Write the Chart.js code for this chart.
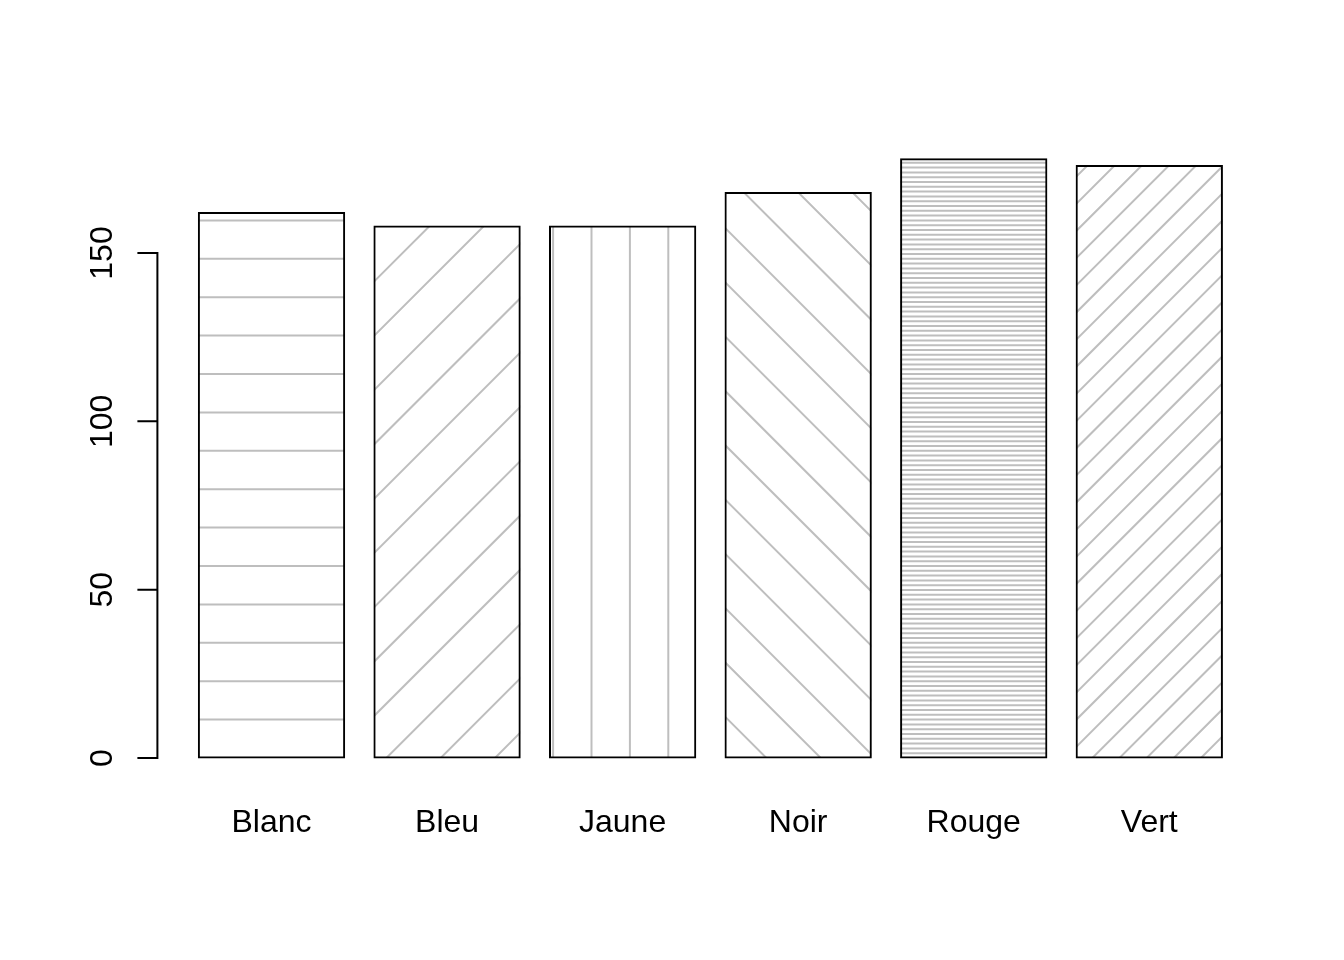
<!DOCTYPE html>
<html>
<head>
<meta charset="utf-8">
<style>
  html, body { margin: 0; padding: 0; background: #ffffff; }
  canvas { display: block; }
</style>
<script src="https://cdn.jsdelivr.net/npm/chart.js@4/dist/chart.umd.min.js"></script>
</head>
<body>
<canvas id="c" width="1344" height="960"></canvas>
<script>
// ---- data ----
const categories = ['Blanc', 'Bleu', 'Jaune', 'Noir', 'Rouge', 'Vert'];
const counts = [162, 158, 158, 168, 178, 176];
const yTicks = [0, 50, 100, 150];
// hatch style per bar (R: angle in degrees, density in lines per inch)
const hatchAngles = [0, 45, 90, 135, 0, 45];
const hatchDensities = [5, 5, 5, 5, 40, 10];

// R barplot geometry (user units): bar width 1, space 0.2
const barSpace = 0.2;
const barCenters = categories.map((_, i) => barSpace + 0.5 + i * (1 + barSpace));
const xMin = -0.08, xMax = 7.48;
const yMin = -13.51, yMax = 185;

const FONT = '"Liberation Sans", Arial, Helvetica, sans-serif';
const PPI = 192;

const hatchPlugin = {
  id: 'hatch',
  beforeDatasetsDraw(chart) {
    const ctx = chart.ctx;
    const xs = chart.scales.x, ys = chart.scales.y;
    const ox = xs.getPixelForValue(0), oy = ys.getPixelForValue(0);
    chart.getDatasetMeta(0).data.forEach((bar, i) => {
      const p = bar.getProps(['x', 'y', 'base', 'width'], true);
      const l = p.x - p.width / 2, r = p.x + p.width / 2;
      const t = Math.min(p.y, p.base), b = Math.max(p.y, p.base);
      const a = hatchAngles[i] * Math.PI / 180;
      const nx = Math.sin(a), ny = Math.cos(a);
      const dx = Math.cos(a), dy = -Math.sin(a);
      const s = PPI / hatchDensities[i];
      const proj = [[l, t], [r, t], [l, b], [r, b]].map(([x, y]) => nx * (x - ox) + ny * (y - oy));
      const kmin = Math.ceil(Math.min(...proj) / s), kmax = Math.floor(Math.max(...proj) / s);
      const L = (r - l) + (b - t);
      const mx = (l + r) / 2, my = (t + b) / 2;
      ctx.save();
      ctx.beginPath();
      ctx.rect(l, t, r - l, b - t);
      ctx.clip();
      ctx.strokeStyle = '#bebebe';
      ctx.lineWidth = 2;
      ctx.beginPath();
      for (let k = kmin; k <= kmax; k++) {
        const cx = ox + nx * k * s, cy = oy + ny * k * s;
        const tp = (mx - cx) * dx + (my - cy) * dy;
        const px = cx + dx * tp, py = cy + dy * tp;
        ctx.moveTo(px - dx * L, py - dy * L);
        ctx.lineTo(px + dx * L, py + dy * L);
      }
      ctx.stroke();
      ctx.restore();
    });
  }
};

const yAxisPlugin = {
  id: 'rYAxis',
  afterDraw(chart) {
    const ctx = chart.ctx, ys = chart.scales.y;
    const x0 = chart.chartArea.left;
    ctx.save();
    ctx.strokeStyle = '#000';
    ctx.lineWidth = 2;
    ctx.lineCap = 'butt';
    ctx.beginPath();
    ctx.moveTo(x0, ys.getPixelForValue(yTicks[0]) + 1);
    ctx.lineTo(x0, ys.getPixelForValue(yTicks[yTicks.length - 1]) - 1);
    yTicks.forEach(v => {
      const y = ys.getPixelForValue(v);
      ctx.moveTo(x0, y);
      ctx.lineTo(x0 - 20, y);
    });
    ctx.stroke();
    ctx.fillStyle = '#000';
    ctx.font = '32px ' + FONT;
    ctx.textAlign = 'center';
    ctx.textBaseline = 'alphabetic';
    yTicks.forEach(v => {
      const y = ys.getPixelForValue(v);
      ctx.save();
      ctx.translate(x0 - 45.6, y);
      ctx.rotate(-Math.PI / 2);
      ctx.fillText(String(v), 0, 0);
      ctx.restore();
    });
    ctx.restore();
  }
};

new Chart(document.getElementById('c'), {
  type: 'bar',
  data: {
    datasets: [{
      data: counts.map((v, i) => ({ x: barCenters[i], y: v })),
      backgroundColor: 'rgba(0,0,0,0)',
      borderColor: '#000000',
      borderWidth: 1,
      inflateAmount: 0.5,
      borderSkipped: false,
      barPercentage: 1 / (1 + barSpace),
      categoryPercentage: 1
    }]
  },
  options: {
    responsive: false,
    animation: false,
    devicePixelRatio: 1,
    layout: { padding: { left: 157.4, right: 80.6, top: 135.17, bottom: 118.1 } },
    plugins: { legend: { display: false }, tooltip: { enabled: false } },
    scales: {
      x: {
        type: 'linear',
        offset: false,
        min: xMin,
        max: xMax,
        afterBuildTicks: sc => { sc.ticks = barCenters.map(v => ({ value: v })); },
        ticks: {
          callback: (v, i) => categories[i],
          color: '#000',
          font: { family: FONT, size: 32 },
          padding: 0,
          maxRotation: 0,
          autoSkip: false
        },
        grid: { display: false, drawTicks: false, offset: false },
        border: { display: false }
      },
      y: {
        display: false,
        min: yMin,
        max: yMax
      }
    }
  },
  plugins: [hatchPlugin, yAxisPlugin]
});
</script>
</body>
</html>
